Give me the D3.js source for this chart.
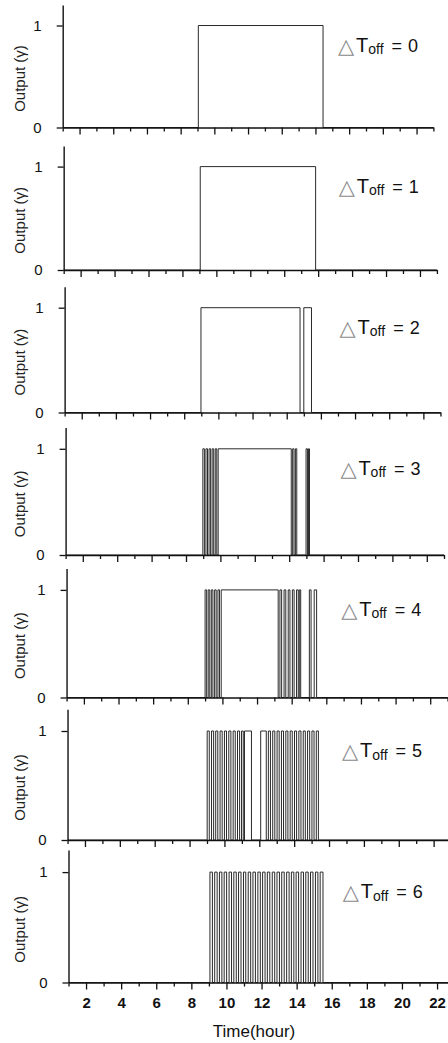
<!DOCTYPE html>
<html><head><meta charset="utf-8">
<script src="https://cdn.jsdelivr.net/npm/d3@7"></script>
<style>body{margin:0;background:#fff}svg{display:block}</style>
</head><body><svg id="c" width="448" height="1043"></svg>
<script>
// ---- data ----
const hourTicks = [1,2,3,4,5,6,7,8,9,10,11,12,13,14,15,16,17,18,19,20,21,22,23];
const labeledHours = [2,4,6,8,10,12,14,16,18,20,22];
const deltaToff = [0,1,2,3,4,5,6];
const yTicks = [0,1];
// intervals (hour on, hour off) where output = 1
const pulsesT0 = [[9.05,16.45]];
const pulsesT1 = [[9.05,15.85]];
const pulsesT2 = [[8.98,14.78],[15.0,15.45]];
const pulsesT3 = [[8.98,9.07],[9.16,9.25],[9.34,9.43],[9.52,9.61],[9.7,9.79],[9.87,14.12],
                  [14.2,14.28],[14.36,14.44],[14.98,15.06],[15.12,15.18]];
const pulsesT4 = [[9.0,9.09],[9.18,9.27],[9.36,9.45],[9.55,9.64],[9.74,9.83],[9.93,13.22],
                  [13.32,13.42],[13.56,13.66],[13.8,13.9],[14.04,14.14],[14.28,14.38],[14.44,14.52],
                  [15.02,15.12],[15.3,15.44]];
const pulsesT5 = [[9.01,9.13],[9.26,9.38],[9.5,9.62],[9.75,9.87],[10.0,10.12],[10.25,10.37],
                  [10.5,10.62],[10.75,10.87],[10.98,11.08],[11.15,11.55],[12.08,12.4],
                  [12.52,12.64],[12.77,12.89],[13.02,13.14],[13.27,13.39],[13.52,13.64],
                  [13.77,13.89],[14.02,14.14],[14.27,14.39],[14.52,14.64],[14.77,14.89],
                  [15.02,15.14],[15.27,15.39]];
const pulsesT6 = [[9.06,9.2],[9.33,9.47],[9.6,9.74],[9.87,10.01],[10.15,10.29],[10.42,10.56],
                  [10.69,10.83],[10.97,11.1],[11.24,11.38],[11.51,11.65],[11.79,11.93],
                  [12.06,12.2],[12.33,12.47],[12.61,12.75],[12.88,13.02],[13.15,13.29],
                  [13.43,13.57],[13.7,13.84],[13.97,14.11],[14.25,14.39],[14.52,14.66],
                  [14.79,14.93],[15.07,15.21],[15.34,15.5]];
const panelPulses = [pulsesT0,pulsesT1,pulsesT2,pulsesT3,pulsesT4,pulsesT5,pulsesT6];

// ---- drawing ----
const svg = d3.select("#c");
const FONT = "'Liberation Sans', Arial, Helvetica, sans-serif";
const n = deltaToff.length;

deltaToff.forEach((dt, i) => {
  const f = i / (n - 1);
  const left = 62.7 + f * (68.5 - 62.7);
  const pxh = 16.85 + f * (17.55 - 16.85);
  const x = d3.scaleLinear().domain([1, 23]).range([left, left + 22 * pxh]);
  const zero = 127.5 + i * 142.5;
  const hh = 102 + 1.4 * i;
  const y = d3.scaleLinear().domain([0, 1.2]).range([zero, zero - 1.2 * hh]);
  const isBottom = i === n - 1;

  const g = svg.append("g");

  // trace
  const pts = [[1, 0]];
  panelPulses[i].forEach(([a, b]) => { pts.push([a, 0], [a, 1], [b, 1], [b, 0]); });
  pts.push([23, 0]);
  g.append("path")
    .attr("d", d3.line().x(d => x(d[0])).y(d => y(d[1]))(pts))
    .attr("fill", "none").attr("stroke", "#2a2a2a").attr("stroke-width", 1)
    .attr("stroke-linejoin", "miter");

  // x axis
  const xAx = g.append("g").attr("transform", `translate(0,${zero})`)
    .call(d3.axisBottom(x).tickValues(hourTicks).tickSize(7).tickSizeOuter(0).tickPadding(8)
      .tickFormat(d => (isBottom && labeledHours.includes(d)) ? String(d) : ""));
  xAx.selectAll(".tick line").attr("y2", d => d % 2 === 0 ? 7 : 4);
  xAx.selectAll("text").attr("font-family", FONT).attr("font-size", 15)
    .attr("font-weight", "bold").attr("fill", "#111");

  // y axis
  const yAx = g.append("g").attr("transform", `translate(${x(1)},0)`)
    .call(d3.axisLeft(y).tickValues(yTicks).tickSize(6).tickSizeOuter(0).tickPadding(15)
      .tickFormat(d3.format("d")));
  yAx.selectAll("text").attr("font-family", FONT).attr("font-size", 15).attr("fill", "#111");

  [xAx, yAx].forEach(a => {
    a.select(".domain").attr("stroke", "#111").attr("stroke-width", 1.4);
    a.selectAll(".tick line").attr("stroke", "#111").attr("stroke-width", 1.3);
  });

  // y label
  g.append("text")
    .attr("transform", `translate(25,${zero - hh / 2 + 2}) rotate(-90)`)
    .attr("text-anchor", "middle").attr("font-family", FONT).attr("font-size", 15)
    .attr("fill", "#222").text("Output (γ)");

  // ΔT_off label
  const lx = 340 + i * 0.8, ly = zero - hh + 26;
  g.append("text").attr("x", lx - 2).attr("y", ly + 1)
    .attr("font-family", "'DejaVu Sans', sans-serif").attr("font-size", 21)
    .attr("fill", "#8a8a8a").text("△");
  const t = g.append("text").attr("x", lx + 16).attr("y", ly)
    .attr("font-family", FONT).attr("fill", "#111");
  t.append("tspan").attr("font-size", 20).text("T");
  t.append("tspan").attr("font-size", 14).attr("dy", 2.5).text("off");
  t.append("tspan").attr("font-size", 18).attr("dx", 8).attr("dy", -2.5).text("=");
  t.append("tspan").attr("font-size", 18).attr("dx", 6).text(String(dt));
});

svg.append("text").attr("x", 254).attr("y", 1037).attr("text-anchor", "middle")
  .attr("font-family", FONT).attr("font-size", 17).attr("fill", "#111").text("Time(hour)");
</script>
</body></html>
